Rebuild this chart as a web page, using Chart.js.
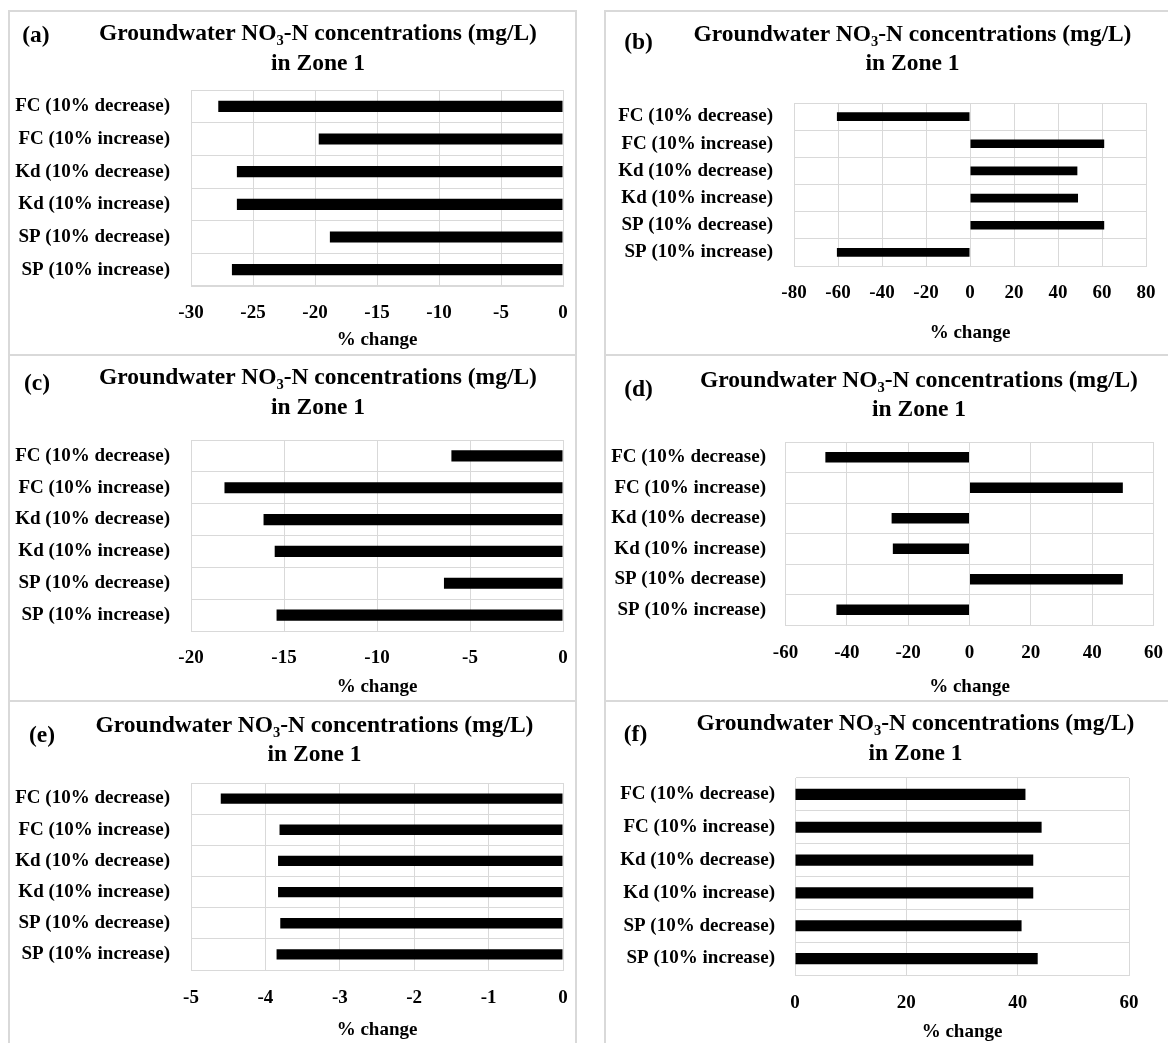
<!DOCTYPE html>
<html><head><meta charset="utf-8">
<script src="https://cdn.jsdelivr.net/npm/chart.js@4"></script>
<style>
html,body{margin:0;padding:0;background:#fff;width:1168px;height:1043px;overflow:hidden;position:relative;font-family:"Liberation Serif",serif;font-weight:bold;color:#000;}
.panel{position:absolute;box-sizing:border-box;border:2px solid #d9d9d9;background:#fff;}
.panel canvas{position:absolute;left:0;top:0;}
.t{position:absolute;white-space:nowrap;transform:translate(-50%,-50%);font-size:23.5px;line-height:1;}
.t sub{font-size:0.62em;vertical-align:-0.3em;line-height:0;}
</style></head><body>
<script>
// ---------- data ----------
const categories = ["FC (10% decrease)","FC (10% increase)","Kd (10% decrease)","Kd (10% increase)","SP (10% decrease)","SP (10% increase)"];
const valuesA = [-27.8, -19.7, -26.3, -26.3, -18.8, -26.7];
const valuesB = [-60.5, 61, 48.8, 49.1, 61, -60.5];
const valuesC = [-6.0, -18.2, -16.1, -15.5, -6.4, -15.4];
const valuesD = [-47, 50, -25.4, -25, 50, -43.4];
const valuesE = [-4.6, -3.81, -3.83, -3.83, -3.8, -3.85];
const valuesF = [41.4, 44.3, 42.8, 42.8, 40.7, 43.6];
const panelTags = ["(a)","(b)","(c)","(d)","(e)","(f)"];
const titleLine1 = "Groundwater NO<sub>3</sub>-N concentrations (mg/L)";
const titleLine2 = "in Zone 1";
const axisTitle = "% change";
const xMin = [-30, -80, -20, -60, -5, 0];
const xMax = [0, 80, 0, 60, 0, 60];
const xStep = [5, 20, 5, 20, 1, 20];
const seriesValues = [valuesA, valuesB, valuesC, valuesD, valuesE, valuesF];

// ---------- layout (page pixel coordinates) ----------
const layouts = [
  {box:[8,10,569,346],   plot:[191,563,90,286],   tickY:313, axY:340, catR:170,   tcx:318,   ty:[33,63],   tag:[36,35],   bar:0.34},
  {box:[604,10,580,346], plot:[794,1146,103,266], tickY:293, axY:333, catR:773,   tcx:912.5, ty:[34,63],   tag:[638.5,42], bar:0.32},
  {box:[8,354,569,348],  plot:[191,563,440,631],  tickY:658, axY:687, catR:170,   tcx:318,   ty:[377,407], tag:[37,383],  bar:0.35},
  {box:[604,354,580,348],plot:[785.5,1153.5,442,625], tickY:653, axY:687, catR:766, tcx:919, ty:[380,409], tag:[638.5,389], bar:0.35},
  {box:[8,700,569,350],  plot:[191,563,783,970],  tickY:998, axY:1030, catR:170,  tcx:314.5, ty:[725,754], tag:[42,735],  bar:0.33},
  {box:[604,700,580,350],plot:[795,1129,778,975], tickY:1003, axY:1032, catR:775, tcx:915.5, ty:[723,753], tag:[635.5,734], bar:0.34}
];

const FONT = '"Liberation Serif", serif';
const LBL = 19;
const GRID = '#d9d9d9';

function addText(html, x, y) {
  const d = document.createElement('div');
  d.className = 't';
  d.innerHTML = html;
  d.style.left = x + 'px';
  d.style.top = y + 'px';
  document.body.appendChild(d);
}

layouts.forEach((L, i) => {
  const [bx, by, bw, bh] = L.box;
  const div = document.createElement('div');
  div.className = 'panel';
  div.style.left = bx + 'px'; div.style.top = by + 'px';
  div.style.width = bw + 'px'; div.style.height = bh + 'px';
  document.body.appendChild(div);
  const cw = bw - 4, ch = bh - 4;
  const ox = bx + 2, oy = by + 2;
  const cv = document.createElement('canvas');
  cv.width = cw; cv.height = ch;
  cv.style.width = cw + 'px'; cv.style.height = ch + 'px';
  div.appendChild(cv);

  const [pl, pr, pt, pb] = L.plot;
  const yAxisW = pl - ox;
  const xAxisH = ch - (pb - oy);
  const lh = LBL * 1.2;

  new Chart(cv, {
    type: 'bar',
    data: {
      labels: categories,
      datasets: [{
        data: seriesValues[i],
        backgroundColor: '#000',
        borderWidth: 0,
        barPercentage: L.bar,
        categoryPercentage: 1.0
      }]
    },
    options: {
      indexAxis: 'y',
      responsive: false,
      animation: false,
      devicePixelRatio: 1,
      layout: {padding: {top: pt - oy, right: cw - (pr - ox), left: 0, bottom: 0}},
      plugins: {legend: {display: false}, tooltip: {enabled: false}, title: {display: false}},
      scales: {
        x: {
          min: xMin[i], max: xMax[i],
          ticks: {stepSize: xStep[i], color: '#000', padding: L.tickY - pb - lh / 2,
                  font: {family: FONT, size: LBL, weight: 'bold'}, maxRotation: 0},
          grid: {color: GRID, lineWidth: 1, drawTicks: false},
          border: {display: true, color: GRID, width: 1},
          title: {display: true, text: axisTitle, color: '#000',
                  font: {family: FONT, size: LBL, weight: 'bold'},
                  padding: {top: 0, bottom: (oy + ch) - L.axY - lh / 2}},
          afterFit: s => { s.height = xAxisH; s.paddingLeft = 0; s.paddingRight = 0; }
        },
        y: {
          ticks: {color: '#000', padding: pl - L.catR,
                  font: {family: FONT, size: LBL, weight: 'bold'}},
          grid: {color: GRID, lineWidth: 1, drawTicks: false, offset: true},
          border: {display: true, color: GRID, width: 1},
          afterFit: s => { s.width = yAxisW; s.paddingTop = 0; s.paddingBottom = 0; }
        }
      }
    }
  });

  addText(titleLine1, L.tcx, L.ty[0]);
  addText(titleLine2, L.tcx, L.ty[1]);
  addText(panelTags[i], L.tag[0], L.tag[1]);
});
</script>
</body></html>
